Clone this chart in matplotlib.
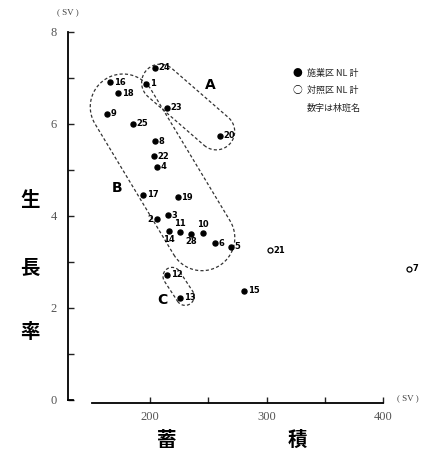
import numpy as np
from matplotlib import pyplot as plt

plt.rcParams['font.family'] = ['Noto Sans CJK JP', 'DejaVu Sans']

# 施業区 (filled) : stand number, 蓄積, 生長率
ids_f = [24, 1, 23, 20, 16, 18, 9, 25, 8, 22, 4, 17, 19, 3, 2, 14, 11, 28, 10, 6, 5, 12, 13, 15]
stock_f = [204.3, 196.6, 214.6, 260.1, 165.7, 172.5, 163.1, 185.4, 204.3, 203.4, 206.0,
           194.0, 224.0, 215.5, 206.0, 216.3, 225.8, 235.2, 245.5, 255.8, 269.5, 214.6, 225.8, 280.7]
growth_f = [7.22, 6.87, 6.35, 5.74, 6.91, 6.67, 6.22, 6.00, 5.63, 5.30, 5.07,
            4.46, 4.41, 4.02, 3.93, 3.67, 3.65, 3.61, 3.63, 3.41, 3.33, 2.72, 2.22, 2.37]

# 対照区 (open)
ids_o = [21, 7]
stock_o = [303.0, 422.3]
growth_o = [3.26, 2.85]

# stand groups A, B, C
groups = {
    'A': [24, 1, 23, 20],
    'B': [16, 18, 9, 25, 8, 22, 4, 17, 19, 3, 2, 14, 11, 28, 10, 6, 5],
    'C': [12, 13],
}
group_label_pos = {'A': (251.5, 6.85), 'B': (171.7, 4.6), 'C': (210.3, 2.17)}

# where a stand number sits relative to its dot
label_side = {2: 'l', 11: 't', 10: 't', 14: 'b', 28: 'b'}

W, H = 429, 450
fig = plt.figure(figsize=(W / 100, H / 100), dpi=100)
ax = fig.add_axes([68 / W, 50 / H, (W - 68) / W, 368 / H])
ax.set_xlim(129.5, 439.5)
ax.set_ylim(0, 8)

for s in ['top', 'right']:
    ax.spines[s].set_visible(False)
ax.spines['left'].set_bounds(0, 8)
ax.spines['bottom'].set_bounds(150, 400)
ax.spines['bottom'].set_position(('outward', 2))
ax.spines['left'].set_linewidth(1.3)
ax.spines['bottom'].set_linewidth(1.3)

ax.set_xticks([200, 250, 300, 350, 400])
ax.set_xticklabels(['200', '', '300', '', '400'])
ax.set_yticks(range(0, 9))
ax.set_yticklabels(['0', '', '2', '', '4', '', '6', '', '8'])
ax.tick_params(direction='in', length=4, width=1, color='#222', labelcolor='#555',
               labelsize=9)
ax.tick_params(axis='y', pad=8)
ax.tick_params(axis='x', pad=6)
for t in ax.get_xticklabels() + ax.get_yticklabels():
    t.set_family('Liberation Serif')

# little foot at the bottom of the y axis
ax.plot([129.5, 133.5], [0, 0], color='k', lw=1.3, clip_on=False)

ax.plot(stock_f, growth_f, 'o', color='k', ms=3.6, clip_on=False, zorder=3)
ax.plot(stock_o, growth_o, 'o', mfc='white', mec='k', mew=0.9, ms=3.6, clip_on=False, zorder=3)

offsets = {'r': ((2.5, 0), 'left', 'center'), 'l': ((-2.5, 0), 'right', 'center'),
           't': ((0, 3), 'center', 'bottom'), 'b': ((0, -2.5), 'center', 'top')}
for i, x, y in zip(ids_f + ids_o, stock_f + stock_o, growth_f + growth_o):
    off, ha, va = offsets[label_side.get(i, 'r')]
    ax.annotate(str(i), (x, y), xytext=off, textcoords='offset points', ha=ha, va=va,
                fontsize=6, fontweight='bold', family='DejaVu Sans', annotation_clip=False)


def stadium(members, pad=4, end_pad=5):
    # dashed loop around a group of stands, built in pixel space
    lookup = {i: (x, y) for i, x, y in zip(ids_f, stock_f, growth_f)}
    P = ax.transData.transform([lookup[i] for i in members])
    P = np.vstack([P, P + [10, 0]])  # leave room for the numbers
    c = P.mean(axis=0)
    _, _, vt = np.linalg.svd(P - c)
    u = vt[0]
    v = np.array([-u[1], u[0]])
    s = (P - c) @ u
    t = (P - c) @ v
    r = (t.max() - t.min()) / 2 + pad
    tm = (t.max() + t.min()) / 2
    s0 = s.min() - end_pad + r
    s1 = s.max() + end_pad - r
    if s1 < s0:
        s0 = s1 = (s0 + s1) / 2
    a = c + u * s0 + v * tm
    b = c + u * s1 + v * tm
    ang = np.arctan2(u[1], u[0])
    th1 = np.linspace(ang - np.pi / 2, ang + np.pi / 2, 40)
    th2 = np.linspace(ang + np.pi / 2, ang + 3 * np.pi / 2, 40)
    ring = np.vstack([b + r * np.c_[np.cos(th1), np.sin(th1)],
                      a + r * np.c_[np.cos(th2), np.sin(th2)]])
    ring = np.vstack([ring, ring[:1]])
    return ax.transData.inverted().transform(ring)


for name, members in groups.items():
    ring = stadium(members)
    ax.plot(ring[:, 0], ring[:, 1], color='#333', lw=0.9, ls=(0, (2.5, 1.8)), zorder=2)
    gx, gy = group_label_pos[name]
    ax.text(gx, gy, name, fontsize=10, fontweight='bold', family='DejaVu Sans',
            ha='center', va='center')

# legend
fig.text(297 / W, 1 - 73 / H, '●', fontsize=7, ha='center', va='center')
fig.text(297 / W, 1 - 90 / H, '○', fontsize=7, ha='center', va='center')
fig.text(307 / W, 1 - 73 / H, '施業区 NL 計', fontsize=6.5, va='center', color='#222')
fig.text(307 / W, 1 - 90 / H, '対照区 NL 計', fontsize=6.5, va='center', color='#222')
fig.text(307 / W, 1 - 108 / H, '数字は林班名', fontsize=6.5, va='center', color='#222')

# units
fig.text(68 / W, 1 - 12 / H, '( SV )', fontsize=6.5, ha='center', va='center',
         family='Liberation Serif', color='#444')
fig.text(408 / W, 1 - 398 / H, '( SV )', fontsize=6.5, ha='center', va='center',
         family='Liberation Serif', color='#444')

# axis titles
for ch, yy in zip('生長率', [200, 268, 332]):
    fig.text(30 / W, 1 - yy / H, ch, fontsize=14, fontweight='bold', ha='center', va='center')
fig.text(167 / W, 1 - 440 / H, '蓄', fontsize=14, fontweight='bold', ha='center', va='center')
fig.text(297 / W, 1 - 440 / H, '積', fontsize=14, fontweight='bold', ha='center', va='center')

fig.savefig('out.png', dpi=100)
